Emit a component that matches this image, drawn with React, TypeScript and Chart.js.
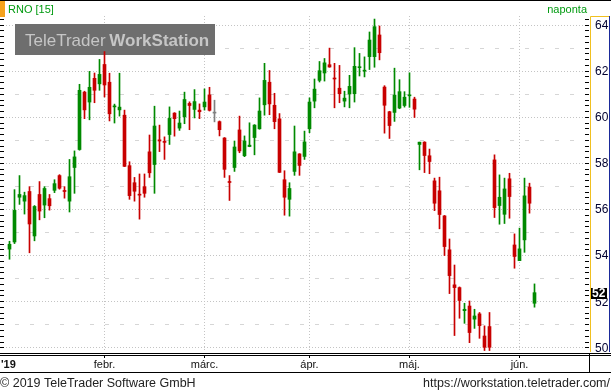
import React, { useEffect, useRef } from "react";
import { Chart, registerables } from "chart.js";

Chart.register(...registerables);

// ---- data (daily candles, RNO, 2019-01-07 .. 2019-06-06) ----
const opens = [
  54.26, 54.57, 56.51, 56.34, 56.76, 54.83, 56.63, 56.17, 56.45, 56.81,
  57.45, 56.80, 56.34, 57.80, 58.58, 61.07, 60.64, 61.67, 61.43, 62.27,
  61.50, 60.43, 60.30, 60.07, 57.88, 57.14, 56.64, 56.97, 58.48, 57.93,
  59.00, 58.93, 59.23, 60.16, 59.51, 60.00, 60.58, 60.32, 60.29, 60.43,
  60.95, 60.16, 59.79, 59.08, 57.18, 57.80, 59.43, 58.31, 58.71, 59.10,
  59.48, 60.52, 61.50, 60.50, 59.91, 57.27, 56.42, 57.63, 58.39, 58.28,
  59.48, 60.68, 61.58, 61.90, 62.26, 61.67, 61.24, 60.68, 60.99, 61.00,
  62.13, 61.98, 62.61, 62.61, 63.55, 61.29, 60.22, 60.19, 60.38, 60.49,
  60.91, 60.77, 58.80, 58.90, 58.31, 57.22, 56.79, 55.70, 54.23, 52.71,
  52.59, 51.59, 51.79, 51.22, 51.45, 50.49, 50.90, 58.13, 56.15, 55.77,
  57.31, 54.44, 53.76, 54.66, 56.95, 51.91,
];
const highs = [
  54.60, 56.84, 57.45, 56.73, 56.97, 56.15, 57.19, 56.97, 56.63, 57.27,
  57.49, 56.97, 58.15, 58.52, 61.41, 61.11, 61.97, 61.90, 62.49, 62.83,
  61.89, 60.55, 61.89, 60.29, 58.05, 57.37, 57.52, 57.52, 59.21, 60.46,
  59.64, 59.13, 60.43, 60.18, 60.25, 61.07, 60.65, 61.18, 60.56, 61.21,
  61.28, 60.72, 59.82, 59.10, 57.45, 58.95, 60.03, 59.17, 59.74, 59.66,
  60.82, 62.32, 62.01, 61.02, 60.14, 57.66, 57.14, 59.60, 58.40, 59.38,
  60.82, 61.64, 62.40, 62.53, 62.98, 62.32, 62.23, 61.11, 61.80, 63.00,
  62.75, 62.60, 63.68, 64.24, 63.94, 61.35, 60.24, 62.11, 61.61, 61.09,
  61.91, 60.85, 58.90, 58.92, 58.60, 57.34, 57.38, 55.72, 54.70, 53.57,
  52.62, 51.91, 52.01, 51.65, 51.51, 50.93, 51.51, 58.35, 57.48, 57.34,
  57.55, 54.92, 55.17, 57.34, 57.12, 52.75,
];
const lows = [
  53.82, 54.50, 56.20, 55.78, 54.10, 54.62, 55.53, 55.62, 55.95, 56.71,
  56.86, 56.47, 55.87, 56.68, 58.55, 59.92, 59.87, 60.61, 61.15, 60.86,
  59.82, 59.73, 60.03, 57.84, 56.42, 56.34, 55.56, 56.51, 57.37, 56.68,
  58.49, 58.15, 58.80, 59.16, 59.41, 59.70, 59.44, 59.95, 59.92, 60.29,
  60.25, 59.78, 59.17, 57.37, 56.37, 57.63, 58.44, 58.27, 58.70, 58.35,
  59.46, 60.07, 60.09, 59.48, 57.58, 55.73, 55.69, 57.46, 57.46, 58.15,
  59.31, 60.39, 61.51, 61.55, 62.15, 60.39, 60.61, 60.43, 60.39, 60.64,
  61.77, 61.73, 62.05, 62.15, 62.47, 59.29, 59.06, 59.80, 60.35, 60.42,
  60.41, 59.97, 57.70, 57.58, 57.53, 55.93, 55.14, 53.98, 52.33, 50.51,
  51.26, 51.04, 50.20, 50.82, 50.39, 49.86, 49.86, 55.63, 55.34, 55.37,
  55.60, 53.43, 53.76, 54.12, 55.82, 51.74,
];
const closes = [
  54.47, 55.94, 56.63, 56.58, 55.35, 56.11, 55.91, 56.89, 56.14, 57.10,
  56.90, 56.76, 57.40, 58.26, 61.15, 60.30, 61.28, 61.15, 61.84, 61.38,
  60.13, 60.47, 60.42, 57.85, 56.58, 56.77, 56.60, 56.68, 57.57, 59.60,
  58.95, 58.89, 59.93, 59.92, 59.73, 60.75, 60.49, 60.66, 60.22, 60.64,
  60.28, 60.16, 59.44, 57.72, 57.15, 58.69, 58.52, 58.95, 58.77, 59.64,
  60.25, 61.58, 60.56, 59.79, 57.59, 56.51, 56.89, 58.48, 57.89, 58.91,
  60.64, 61.20, 62.00, 62.34, 62.16, 61.64, 61.00, 60.81, 61.32, 62.19,
  62.16, 62.00, 63.33, 63.91, 62.78, 60.50, 59.62, 60.94, 61.09, 60.85,
  60.93, 60.33, 58.90, 58.32, 58.06, 56.25, 55.76, 54.37, 53.11, 52.59,
  52.03, 51.65, 50.64, 51.36, 50.94, 50.00, 50.00, 56.06, 56.51, 56.87,
  56.54, 53.94, 54.27, 56.57, 56.25, 52.37,
];

const yTicks = [50, 52, 54, 56, 58, 60, 62, 64];
const yearLabel = "'19";
const monthLabels = ["febr.", "márc.", "ápr.", "máj.", "jún."];
const monthStarts = [19, 39, 60, 80, 102]; // candle index of first trading day
const symbolLabel = "RNO [15]";
const periodLabel = "naponta";
const footerLeft = "\u00A9 2019 TeleTrader Software GmbH";
const footerRight = "https://workstation.teletrader.com/";

const GREEN = "#008a00";
const RED = "#c80000";
const GRAY = "#808080";
const FONT = '"Liberation Sans", Arial, sans-serif';

function candleColor(i: number) {
  if (closes[i] > opens[i]) return GREEN;
  if (closes[i] < opens[i]) return RED;
  return GRAY;
}

const ttPlugin = {
  id: "ttDecor",
  beforeDraw(chart: any) {
    const { ctx, width, height } = chart;
    ctx.save();
    ctx.fillStyle = "#ffffff";
    ctx.fillRect(0, 0, width, height);
    ctx.restore();
  },
  beforeDatasetsDraw(chart: any) {
    const { ctx, chartArea: a } = chart;
    const x = chart.scales.x;
    const y = chart.scales.y;
    ctx.save();
    ctx.beginPath();
    ctx.rect(a.left, a.top, a.right - a.left, a.bottom - a.top);
    ctx.clip();
    ctx.lineWidth = 1;
    for (let v = Math.ceil(y.min); v <= y.max; v++) {
      const py = Math.round(y.getPixelForValue(v)) + 0.5;
      if (v % 2 === 0) {
        ctx.strokeStyle = "#c4c4c4";
        ctx.setLineDash([1, 2]);
      } else {
        ctx.strokeStyle = "#d6d6d6";
        ctx.setLineDash([4, 11]);
      }
      ctx.beginPath();
      ctx.moveTo(a.left, py);
      ctx.lineTo(a.right, py);
      ctx.stroke();
    }
    ctx.strokeStyle = "#c4c4c4";
    ctx.setLineDash([1, 2]);
    monthStarts.forEach((i) => {
      const px = Math.floor(x.getPixelForValue(i)) + 0.5;
      ctx.beginPath();
      ctx.moveTo(px, a.top);
      ctx.lineTo(px, a.bottom);
      ctx.stroke();
    });
    ctx.setLineDash([]);
    // watermark
    ctx.fillStyle = "#6e6e6e";
    ctx.fillRect(15, 24, 200, 31);
    ctx.fillStyle = "#c6c6c6";
    ctx.textBaseline = "alphabetic";
    ctx.font = `17px ${FONT}`;
    ctx.fillText("TeleTrader", 25, 46);
    const w1 = ctx.measureText("TeleTrader ").width;
    ctx.font = `bold 17px ${FONT}`;
    ctx.fillText("WorkStation", 24 + w1, 46);
    ctx.restore();
  },
  afterDraw(chart: any) {
    const { ctx, chartArea: a, width } = chart;
    const x = chart.scales.x;
    const y = chart.scales.y;
    ctx.save();
    // header
    ctx.fillStyle = "#000";
    ctx.fillRect(0, 0, width, 1);
    ctx.fillStyle = "#f5a21c";
    ctx.fillRect(0, 1, 5, 16);
    ctx.font = `11px ${FONT}`;
    ctx.fillStyle = "#009a10";
    ctx.textAlign = "left";
    ctx.textBaseline = "alphabetic";
    ctx.fillText(symbolLabel, 8, 13);
    ctx.textAlign = "right";
    ctx.fillText(periodLabel, 587, 13);

    // minor ticks left edge and right axis
    ctx.fillStyle = "#000";
    for (let v = Math.ceil(y.min * 4) / 4; v <= y.max; v += 0.25) {
      const py = Math.round(y.getPixelForValue(v));
      ctx.fillRect(a.left, py, 4, 1);
      ctx.fillRect(a.right - 4, py, 4, 1);
    }

    // right axis panel
    ctx.strokeStyle = "#f0c020";
    ctx.lineWidth = 1;
    ctx.beginPath();
    ctx.moveTo(a.right + 1.5, a.bottom);
    ctx.lineTo(a.right + 1.5, a.top + 0.5);
    ctx.lineTo(width - 2, a.top + 0.5);
    ctx.stroke();
    ctx.strokeStyle = "#1a2a9a";
    ctx.beginPath();
    ctx.moveTo(width - 1.5, a.top);
    ctx.lineTo(width - 1.5, a.bottom);
    ctx.stroke();

    ctx.font = `12px ${FONT}`;
    ctx.fillStyle = "#000030";
    ctx.textAlign = "left";
    ctx.textBaseline = "middle";
    yTicks.forEach((v) => {
      const py = y.getPixelForValue(v);
      ctx.fillText(String(v), a.right + 6, py + 1);
    });
    // last price box
    const last = closes[closes.length - 1];
    const lp = y.getPixelForValue(last);
    ctx.fillStyle = "#000";
    ctx.fillRect(a.right + 2, Math.round(lp) - 5, 16, 11);
    ctx.fillStyle = "#fff";
    ctx.font = `bold 12px ${FONT}`;
    ctx.fillText(String(Math.floor(last)), a.right + 3, lp + 1);

    // bottom axis band
    ctx.fillStyle = "#000";
    ctx.fillRect(0, a.bottom + 1, width, 1);
    ctx.fillRect(0, a.bottom + 3, width, 1);
    ctx.fillRect(0, a.bottom + 20, width, 1);
    ctx.fillRect(a.right, a.bottom + 1, 1, 20);
    monthStarts.forEach((i) => {
      const px = Math.floor(x.getPixelForValue(i));
      ctx.fillRect(px, a.bottom + 3, 1, 3);
    });
    ctx.textBaseline = "alphabetic";
    ctx.fillStyle = "#111";
    ctx.font = `bold 11px ${FONT}`;
    ctx.textAlign = "left";
    ctx.fillText(yearLabel, 1, a.bottom + 16);
    ctx.font = `11px ${FONT}`;
    ctx.textAlign = "center";
    monthLabels.forEach((lbl, k) => {
      const px = x.getPixelForValue(monthStarts[k]);
      ctx.fillText(lbl, px, a.bottom + 16);
    });

    // footer
    ctx.fillStyle = "#222";
    ctx.font = `12.5px ${FONT}`;
    ctx.textAlign = "left";
    ctx.fillText(footerLeft, 0, 387);
    ctx.textAlign = "right";
    ctx.fillText(footerRight, width - 1, 387);
    ctx.restore();
  },
};

export default function App() {
  const ref = useRef<HTMLCanvasElement | null>(null);
  useEffect(() => {
    if (!ref.current) return;
    const idx = opens.map((_, i) => i);
    const colors = idx.map((i) => candleColor(i));
    const chart = new Chart(ref.current, {
      type: "bar",
      data: {
        datasets: [
          {
            data: idx.map((i) => ({ x: i, y: [lows[i], highs[i]] })) as any,
            backgroundColor: colors,
            borderWidth: 0,
            barThickness: 1,
            grouped: false,
          } as any,
          {
            data: idx.map((i) => ({
              x: i,
              y: [Math.min(opens[i], closes[i]), Math.max(opens[i], closes[i])],
            })) as any,
            backgroundColor: colors,
            borderWidth: 0,
            barThickness: 3,
            minBarLength: 1,
            grouped: false,
          } as any,
        ],
      },
      options: {
        animation: false,
        responsive: false,
        maintainAspectRatio: false,
        devicePixelRatio: 1,
        layout: { padding: { left: 0, right: 22, top: 16, bottom: 40 } },
        plugins: { legend: { display: false }, tooltip: { enabled: false } },
        scales: {
          x: { type: "linear", min: -1.9, max: 115.9, offset: false, display: false },
          y: { type: "linear", min: 49.796, max: 64.373, display: false },
        },
      },
      plugins: [ttPlugin],
    });
    return () => chart.destroy();
  }, []);
  return (
    <div style={{ position: "absolute", left: 0, top: 0, width: 611, height: 392 }}>
      <canvas ref={ref} width={611} height={392} style={{ width: 611, height: 392, display: "block" }} />
    </div>
  );
}
